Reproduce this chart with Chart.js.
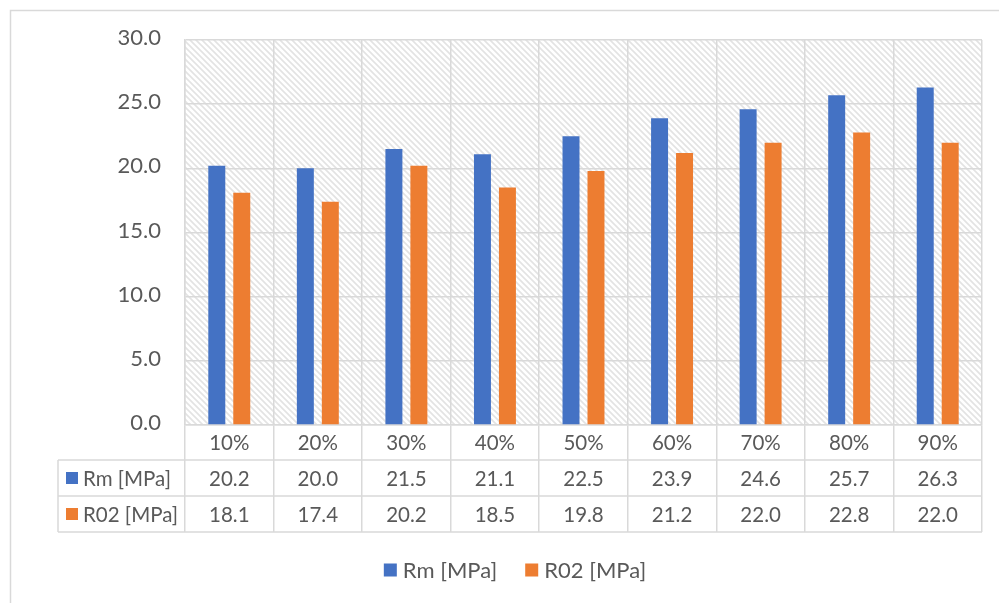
<!DOCTYPE html>
<html>
<head>
<meta charset="utf-8">
<script src="https://cdn.jsdelivr.net/npm/chart.js@4.4.1/dist/chart.umd.min.js"></script>
<style>
  html, body { margin: 0; padding: 0; background: #ffffff; }
  #wrap { width: 999px; height: 603px; position: relative; }
</style>
</head>
<body>
<div id="wrap"><canvas id="chart" width="999" height="603"></canvas></div>
<script>
// Strain levels (table header row / x categories)
const categories = ['10%', '20%', '30%', '40%', '50%', '60%', '70%', '80%', '90%'];
// Tensile strength and 0.2% proof stress, MPa
const rmValues  = [20.2, 20.0, 21.5, 21.1, 22.5, 23.9, 24.6, 25.7, 26.3];
const r02Values = [18.1, 17.4, 20.2, 18.5, 19.8, 21.2, 22.0, 22.8, 22.0];
const seriesNames = ['Rm [MPa]', 'R02 [MPa]'];
const yTicks = [0, 5, 10, 15, 20, 25, 30];

const BLUE = '#4472C4';
const ORANGE = '#ED7D31';
const TEXT = '#595959';
const GRID = '#d9d9d9';
const FONT = 'Lato, "Open Sans", sans-serif';

// diagonal hatch fill for the plot area
function makeHatch() {
  const s = 6;
  const c = document.createElement('canvas');
  c.width = s; c.height = s;
  const g = c.getContext('2d');
  g.fillStyle = '#ffffff';
  g.fillRect(0, 0, s, s);
  g.strokeStyle = '#e3e3e3';
  g.lineWidth = 1.6;
  g.beginPath();
  g.moveTo(-1, -1); g.lineTo(s + 1, s + 1);
  g.moveTo(-1, s - 1); g.lineTo(1, s + 1);
  g.moveTo(s - 1, -1); g.lineTo(s + 1, 1);
  g.stroke();
  return g.createPattern(c, 'repeat');
}

const TABLE = { rowBottoms: [460, 496, 532], headerLeft: 58 };
const LEGEND = { y: 570, centerX: 515 };

const decorPlugin = {
  id: 'decor',
  beforeDraw(chart) {
    const ctx = chart.ctx;
    const a = chart.chartArea;
    ctx.save();
    ctx.fillStyle = '#ffffff';
    ctx.fillRect(0, 0, chart.width, chart.height);
    // outer chart frame
    ctx.strokeStyle = GRID;
    ctx.lineWidth = 1.5;
    ctx.beginPath();
    ctx.moveTo(10.5, chart.height);
    ctx.lineTo(10.5, 10.5);
    ctx.lineTo(chart.width, 10.5);
    ctx.stroke();
    // hatched plot area
    ctx.fillStyle = makeHatch();
    ctx.fillRect(a.left, a.top, a.right - a.left, a.bottom - a.top);
    ctx.restore();
  },
  afterDraw(chart) {
    const ctx = chart.ctx;
    const a = chart.chartArea;
    const xs = chart.scales.x;
    const rb = TABLE.rowBottoms;
    ctx.save();
    // table rules
    ctx.strokeStyle = GRID;
    ctx.lineWidth = 1.5;
    ctx.beginPath();
    rb.forEach(y => { ctx.moveTo(TABLE.headerLeft, y); ctx.lineTo(a.right, y); });
    ctx.moveTo(TABLE.headerLeft, rb[0]); ctx.lineTo(TABLE.headerLeft, rb[2]);
    ctx.stroke();

    ctx.fillStyle = TEXT;
    ctx.textAlign = 'center';
    ctx.textBaseline = 'middle';
    ctx.font = '20.5px ' + FONT;
    const rowCenters = [(a.bottom + rb[0]) / 2, (rb[0] + rb[1]) / 2, (rb[1] + rb[2]) / 2];
    categories.forEach((c, i) => {
      const x = xs.getPixelForValue(i);
      ctx.fillText(c, x, rowCenters[0] + 1);
      chart.data.datasets.forEach((ds, j) => {
        ctx.fillText(ds.data[i].toFixed(1), x, rowCenters[j + 1] + 1);
      });
    });
    // row headers with series keys
    ctx.textAlign = 'left';
    chart.data.datasets.forEach((ds, j) => {
      const cy = rowCenters[j + 1];
      ctx.fillStyle = ds.backgroundColor;
      ctx.fillRect(66, cy - 6, 12, 12);
      ctx.fillStyle = TEXT;
      ctx.fillText(ds.label, 83, cy + 1);
    });
    // legend
    ctx.font = '22px ' + FONT;
    const items = chart.data.datasets.map(ds => ({ label: ds.label, color: ds.backgroundColor, w: ctx.measureText(ds.label).width }));
    const box = 13, gapBox = 6, gapItem = 28;
    let total = 0;
    items.forEach((it, k) => { total += box + gapBox + it.w + (k ? gapItem : 0); });
    let x = LEGEND.centerX - total / 2;
    items.forEach((it, k) => {
      if (k) x += gapItem;
      ctx.fillStyle = it.color;
      ctx.fillRect(x, LEGEND.y - box / 2, box, box);
      x += box + gapBox;
      ctx.fillStyle = TEXT;
      ctx.fillText(it.label, x, LEGEND.y + 1);
      x += it.w;
    });
    ctx.restore();
  }
};

new Chart(document.getElementById('chart'), {
  type: 'bar',
  data: {
    labels: categories,
    datasets: [
      { label: seriesNames[0], data: rmValues, backgroundColor: BLUE },
      { label: seriesNames[1], data: r02Values, backgroundColor: ORANGE }
    ]
  },
  options: {
    responsive: false,
    animation: false,
    devicePixelRatio: 1,
    categoryPercentage: 0.564,
    barPercentage: 0.68,
    layout: { padding: { top: 40, right: 17, bottom: 0, left: 0 } },
    plugins: { legend: { display: false }, tooltip: { enabled: false } },
    scales: {
      x: {
        afterFit(scale) { scale.height = 603 - 425; },
        grid: { display: true, offset: true, color: GRID, lineWidth: 1.5, drawTicks: true, tickLength: 107, tickColor: GRID, tickWidth: 1.5 },
        border: { display: true, color: GRID, width: 1.5 },
        ticks: { display: false }
      },
      y: {
        min: yTicks[0],
        max: yTicks[yTicks.length - 1],
        afterFit(scale) { scale.width = 185; },
        afterBuildTicks(scale) { scale.ticks = yTicks.map(v => ({ value: v })); },
        grid: { color: GRID, lineWidth: 1.5, drawTicks: false },
        border: { display: true, color: GRID, width: 1.5 },
        ticks: {
          padding: 24,
          labelOffset: -2,
          color: TEXT,
          font: { family: FONT, size: 22 },
          callback: v => Number(v).toFixed(1)
        }
      }
    }
  },
  plugins: [decorPlugin]
});
</script>
</body>
</html>
